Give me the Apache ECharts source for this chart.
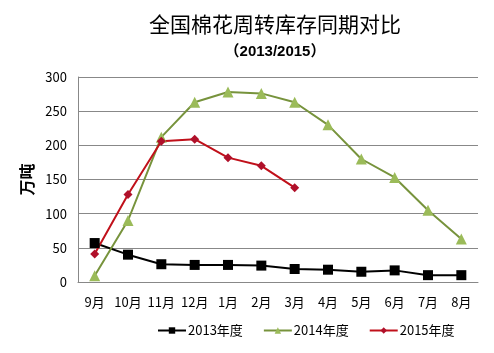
<!DOCTYPE html>
<html>
<head>
<meta charset="utf-8">
<script src="https://cdn.jsdelivr.net/npm/echarts@6/dist/echarts.min.js"></script>
<style>
  html, body { margin: 0; padding: 0; background: #fff; }
  #chart { width: 494px; height: 353px; }
</style>
</head>
<body>
<div id="chart"></div>
<script>
  const months = ['9月', '10月', '11月', '12月', '1月', '2月', '3月', '4月', '5月', '6月', '7月', '8月'];
  const y2013 = [57, 40, 26, 25, 25, 24, 19, 18, 15, 17, 10, 10];
  const y2014 = [9, 90, 212, 263, 278, 276, 263, 230, 180, 153, 105, 63];
  const y2015 = [41, 128, 206, 209, 182, 170, 138];

  const font = '"Noto Sans CJK SC", sans-serif';

  const chart = echarts.init(document.getElementById('chart'));

  chart.setOption({
    animation: false,
    title: [{
      text: '全国棉花周转库存同期对比',
      left: 270,
      top: 9,
      textAlign: 'center',
      textStyle: {fontFamily: font, fontSize: 21, fontWeight: 'normal', color: '#000'}
    }, {
      text: '（2013/2015）',
      left: 270,
      top: 39,
      textAlign: 'center',
      textStyle: {fontFamily: '"Liberation Sans", "Noto Sans CJK SC", sans-serif', fontSize: 15, fontWeight: 'bold', color: '#000'}
    }],
    legend: {
      bottom: 11,
      left: 152,
      itemWidth: 28,
      itemHeight: 8,
      itemGap: 20,
      textStyle: {fontFamily: font, fontSize: 13, color: '#000', padding: [0, 0, 0, -3]},
      data: ['2013年度', '2014年度', '2015年度']
    },
    grid: {left: 78, right: 16, top: 77, bottom: 71},
    xAxis: {
      type: 'category',
      data: months,
      axisLine: {lineStyle: {color: '#888'}},
      axisTick: {show: false},
      axisLabel: {interval: 0, fontFamily: font, fontSize: 13, color: '#000', margin: 14}
    },
    yAxis: {
      type: 'value',
      min: 0,
      max: 300,
      interval: 50,
      name: '万吨',
      nameLocation: 'middle',
      nameGap: 42,
      nameTextStyle: {fontFamily: font, fontSize: 16, fontWeight: 'bold', color: '#000'},
      axisLine: {show: true, lineStyle: {color: '#888'}},
      axisTick: {show: false},
      axisLabel: {fontFamily: font, fontSize: 13, color: '#000', margin: 11},
      splitLine: {lineStyle: {color: '#888'}}
    },
    series: [{
      name: '2013年度',
      type: 'line',
      data: y2013,
      symbol: 'rect',
      symbolSize: 10,
      lineStyle: {color: '#000', width: 2},
      itemStyle: {color: '#000'}
    }, {
      name: '2014年度',
      type: 'line',
      data: y2014,
      symbol: 'triangle',
      symbolSize: 11,
      lineStyle: {color: '#77933C', width: 2},
      itemStyle: {color: '#9BBB59'}
    }, {
      name: '2015年度',
      type: 'line',
      data: y2015,
      symbol: 'diamond',
      symbolSize: 9,
      lineStyle: {color: '#C0101A', width: 2},
      itemStyle: {color: '#B0102A'}
    }]
  });
</script>
</body>
</html>
